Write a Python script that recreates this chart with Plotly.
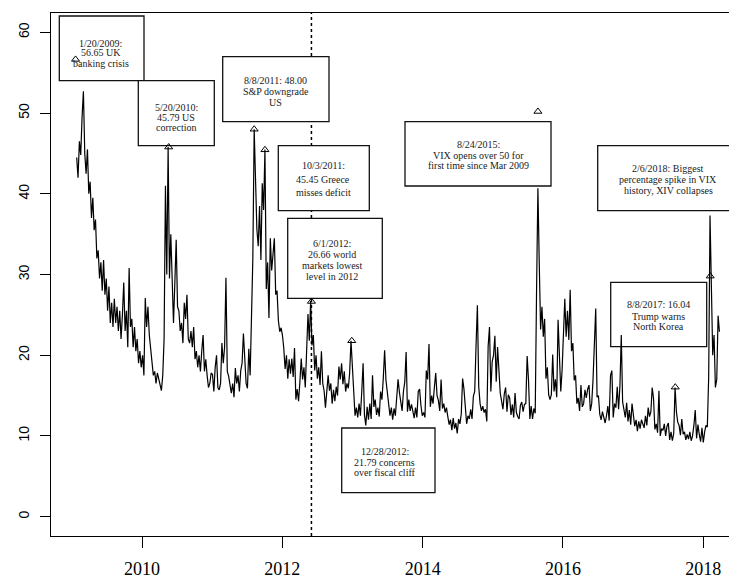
import pandas as pd
import plotly.graph_objects as go

# ---------------- data (weekly readings of the VIX close) ----------------
vix_2009 = [44.5, 42.0, 46.5, 44.8, 49.5, 52.7, 45.0, 42.5, 45.5, 40.0, 41.5, 37.0, 39.5, 35.5, 36.8,
            32.0, 33.0, 29.5, 31.5, 28.0, 31.8, 27.5, 29.5, 25.5, 28.5, 24.0, 26.5, 23.5, 27.0, 24.0,
            26.0, 23.0, 25.5, 22.0, 25.0, 29.0, 23.0, 25.5, 21.0, 30.8, 23.5, 24.5, 21.0, 23.5, 20.5,
            22.0, 19.0, 20.5, 18.5]
vix_2010 = [20.0, 17.5, 27.1, 23.5, 26.0, 22.5, 20.5, 19.5, 17.5, 18.0, 16.5, 17.8, 17.0, 16.2, 15.6,
            17.5, 22.0, 41.0, 30.0, 45.8, 29.5, 35.0, 28.5, 24.0, 29.0, 34.3, 26.0, 25.5, 23.0, 24.0,
            21.5, 26.5, 24.5, 27.5, 22.0, 21.5, 23.0, 21.0, 23.5, 19.5, 20.5, 18.5, 20.0, 18.0, 20.5,
            22.5, 18.0, 19.5, 17.5, 16.0, 16.5, 17.8]
vix_2011 = [17.6, 15.5, 18.5, 20.0, 16.0, 15.7, 16.5, 21.5, 19.0, 21.0, 29.6, 18.0, 17.4, 16.0, 15.3,
            16.5, 14.8, 18.4, 16.5, 17.5, 15.5, 18.1, 19.0, 22.7, 19.5, 16.5, 15.9, 20.8, 17.5, 25.3,
            32.0, 48.0, 43.0, 35.6, 33.5, 38.5, 31.8, 41.3, 38.0, 45.5, 28.2, 31.5, 24.6, 34.5, 30.5,
            32.5, 34.5, 27.5, 28.0, 24.3, 22.9, 23.4]
vix_2012 = [22.5, 20.9, 18.3, 20.0, 17.1, 19.5, 17.7, 19.6, 17.3, 20.9, 14.5, 15.8, 14.3, 16.7, 19.6,
            17.0, 18.5, 16.0, 20.0, 25.1, 21.8, 26.7, 21.2, 22.5, 18.1, 20.0, 17.1, 18.5, 16.3, 20.5,
            16.5, 15.6, 13.5, 15.2, 17.5, 15.6, 16.5, 14.0, 15.7, 14.3, 16.1, 15.0, 18.6, 17.0, 19.0,
            16.4, 18.0, 15.5, 16.5, 15.9, 17.8, 21.8]
vix_2013 = [14.7, 12.5, 13.5, 12.3, 14.0, 12.5, 15.5, 19.0, 12.6, 11.3, 13.6, 12.0, 14.0, 12.1, 17.5,
            13.6, 14.5, 12.6, 13.5, 12.4, 15.5, 14.5, 17.1, 20.6, 16.9, 15.5, 14.0, 12.5, 13.5, 12.0,
            13.4, 12.5, 14.8, 17.0, 15.4, 14.2, 13.1, 15.5, 16.7, 20.4, 13.0, 14.5, 13.1, 13.9, 12.9,
            12.2, 13.5, 12.3, 15.5, 15.8, 13.8, 12.5]
vix_2014 = [12.9, 12.3, 18.1, 17.0, 21.4, 13.6, 15.0, 14.0, 16.0, 17.8, 15.0, 14.4, 13.1, 17.0, 13.4,
            14.0, 12.9, 13.5, 12.4, 11.4, 12.0, 10.7, 12.2, 10.9, 11.6, 10.3, 12.1, 11.5, 12.7, 17.1,
            15.8, 13.2, 11.5, 12.5, 12.1, 13.3, 12.1, 14.9, 15.5, 21.2, 26.2, 16.1, 14.0, 13.1, 13.7,
            12.9, 13.3, 11.8, 21.1, 23.5, 15.5, 19.2]
vix_2015 = [20.0, 22.4, 16.7, 21.0, 17.3, 15.3, 14.3, 13.3, 15.2, 16.0, 13.0, 15.1, 14.7, 12.6, 13.9,
            12.3, 15.3, 12.9, 12.4, 12.1, 13.8, 14.2, 13.0, 13.9, 14.0, 19.9, 17.0, 12.1, 13.7, 12.1,
            13.4, 12.8, 28.0, 40.7, 31.4, 23.2, 26.0, 22.3, 24.5, 17.1, 18.5, 15.1, 14.5, 15.1, 20.1,
            15.5, 17.0, 14.8, 24.4, 20.7, 15.5, 18.2]
vix_2016 = [22.5, 27.0, 22.3, 25.5, 21.9, 28.1, 20.5, 21.5, 16.9, 17.5, 14.0, 14.7, 13.1, 16.3, 13.6,
            14.0, 15.7, 14.7, 15.8, 16.3, 13.1, 14.0, 17.0, 20.9, 25.8, 14.8, 15.0, 12.7, 12.0, 13.0,
            12.4, 11.6, 12.5, 13.7, 11.9, 17.5, 18.1, 12.3, 14.0, 13.5, 16.1, 13.3, 16.2, 22.5, 14.2,
            12.9, 12.3, 14.1, 11.8, 13.2, 11.4, 14.0]
vix_2017 = [12.5, 11.2, 12.0, 10.6, 11.8, 10.9, 12.0, 11.5, 11.0, 12.5, 11.3, 13.5, 12.4, 13.0, 16.0,
            14.6, 10.8, 11.5, 10.4, 15.6, 10.0, 10.9, 10.7, 11.5, 10.0, 11.2, 11.6, 9.5, 10.5, 9.4,
            10.3, 16.0, 13.0, 11.7, 11.3, 10.1, 12.1, 10.2, 10.5, 9.5, 10.2, 9.6, 10.5, 9.4, 10.0,
            11.3, 13.2, 9.7, 11.4, 10.2, 9.3, 11.0]
vix_2018 = [9.2, 10.5, 11.3, 11.1, 17.3, 37.3, 29.5, 20.0, 22.5, 16.0, 17.0, 24.9, 22.9]

year_series = [("2009-01-26", vix_2009), ("2010-01-04", vix_2010), ("2011-01-03", vix_2011),
               ("2012-01-02", vix_2012), ("2013-01-07", vix_2013), ("2014-01-06", vix_2014),
               ("2015-01-05", vix_2015), ("2016-01-04", vix_2016), ("2017-01-02", vix_2017),
               ("2018-01-01", vix_2018)]

event_dates = ["2009-01-20", "2010-05-20", "2011-08-08", "2011-10-03", "2012-06-01",
               "2012-12-28", "2015-08-24", "2017-08-08", "2018-02-06"]
event_values = [56.65, 45.79, 48.00, 45.45, 26.66, 21.79, 50.2, 16.04, 29.8]

marker_date = "2012-06-01"

tick_years = [2010, 2012, 2014, 2016, 2018]
y_ticks = [0, 10, 20, 30, 40, 50, 60]

box_texts = [
    ["1/20/2009:", "56.65 UK", "banking crisis"],
    ["5/20/2010:", "45.79 US", "correction"],
    ["8/8/2011: 48.00", "S&amp;P downgrade", "US"],
    ["10/3/2011:", "45.45 Greece", "misses deficit"],
    ["6/1/2012:", "26.66 world", "markets lowest", "level in 2012"],
    ["12/28/2012:", "21.79 concerns", "over fiscal cliff"],
    ["8/24/2015:", "VIX opens over 50 for", "first time since Mar 2009"],
    ["2/6/2018: Biggest", "percentage spike in VIX", "history, XIV collapses"],
    ["8/8/2017: 16.04", "Trump warns", "North Korea"],
]

# ---------------- layout geometry ----------------
# positions below are given in page pixels; the page body adds an 8 px offset
W, H = 737, 578
OFF = 8
L_PG, R_PG, T_PG, B_PG = 51, 745, 13, 536      # plot area on the page
Y_RANGE = [-2.4, 62.4]

# page x of two calendar anchors (for the date axis scale)
X_ANCHOR_PX = (142.0, 703.3)
X_ANCHOR_DT = (pd.Timestamp("2010-01-01"), pd.Timestamp("2018-01-01"))


def px_date(x):
    span = X_ANCHOR_DT[1] - X_ANCHOR_DT[0]
    return X_ANCHOR_DT[0] + (x - X_ANCHOR_PX[0]) / (X_ANCHOR_PX[1] - X_ANCHOR_PX[0]) * span


def py_val(y):
    return Y_RANGE[0] + (B_PG - y) / (B_PG - T_PG) * (Y_RANGE[1] - Y_RANGE[0])


def pxx(x):
    return (x - L_PG) / (R_PG - L_PG)


def pxy(y):
    return (B_PG - y) / (B_PG - T_PG)


X_RANGE = [str(px_date(L_PG)), str(px_date(R_PG))]

# box: (x0, x1, y0, y1, text centre x, [line y ...]) in page pixels
box_geom = [
    (59.3, 144.0, 16.0, 80.7, 100.5, [43.0, 53.0, 63.0]),
    (138.3, 214.3, 80.7, 145.7, 176.0, [107.3, 117.0, 127.3]),
    (222.7, 329.0, 56.7, 121.7, 275.5, [80.3, 91.7, 102.7]),
    (278.3, 369.3, 145.7, 210.7, 323.0, [166.0, 179.3, 192.3]),
    (287.7, 382.3, 218.3, 298.3, 331.5, [243.3, 254.3, 265.7, 276.7]),
    (341.7, 435.0, 428.0, 492.7, 384.5, [451.7, 462.3, 472.7]),
    (405.0, 551.0, 121.7, 186.0, 478.0, [144.0, 155.5, 165.7]),
    (597.7, 735.0, 145.7, 210.7, 668.0, [168.3, 179.8, 190.7]),
    (610.7, 706.7, 282.3, 346.7, 658.5, [305.0, 316.0, 326.7]),
]

dates = []
values = []
for start, vals in year_series:
    dates += list(pd.date_range(start, periods=len(vals), freq="7D"))
    values += vals

fig = go.Figure()
fig.add_trace(go.Scatter(x=dates, y=values, mode="lines",
                         line=dict(color="#000000", width=1.2), hoverinfo="skip",
                         showlegend=False))
fig.add_trace(go.Scatter(x=event_dates, y=event_values, mode="markers",
                         marker=dict(symbol="triangle-up-open", size=7,
                                     color="#000000", line=dict(width=1, color="#000000")),
                         showlegend=False))

shapes = [dict(type="line", xref="x", yref="y", x0=marker_date, x1=marker_date,
               y0=Y_RANGE[0], y1=Y_RANGE[1], layer="below",
               line=dict(color="#000000", width=1.5, dash="dot"))]
annotations = []
for (x0, x1, y0, y1, cx, lys), lines in zip(box_geom, box_texts):
    shapes.append(dict(type="rect", xref="x", yref="y",
                       x0=str(px_date(x0)), x1=str(px_date(x1)),
                       y0=py_val(y1), y1=py_val(y0),
                       layer="below", fillcolor="white",
                       line=dict(color="#111111", width=1.3)))
    for ly, txt in zip(lys, lines):
        annotations.append(dict(xref="paper", yref="paper", x=pxx(cx), y=pxy(ly),
                                text=txt, showarrow=False, xanchor="center", yanchor="middle",
                                font=dict(family="Liberation Serif", size=10, color="#1a1a1a")))

fig.update_layout(
    width=W, height=H,
    margin=dict(l=L_PG - OFF, r=W - (R_PG - OFF), t=T_PG - OFF, b=H - (B_PG - OFF), pad=0),
    paper_bgcolor="white", plot_bgcolor="white",
    shapes=shapes, annotations=annotations,
    showlegend=False,
)
fig.update_xaxes(type="date", range=X_RANGE,
                 tickmode="array",
                 tickvals=[f"{y}-01-01" for y in tick_years],
                 ticktext=[str(y) for y in tick_years],
                 ticks="outside", ticklen=11, tickwidth=1, tickcolor="#000000",
                 showline=True, mirror=True, linecolor="#000000", linewidth=1.2,
                 showgrid=False, zeroline=False,
                 tickfont=dict(family="Liberation Serif", size=18, color="#000000"),
                 ticklabelstandoff=5)
fig.update_yaxes(range=Y_RANGE, tickmode="array", tickvals=y_ticks,
                 ticktext=[str(v) for v in y_ticks],
                 ticks="outside", ticklen=10, tickwidth=1, tickcolor="#000000",
                 showline=True, mirror=False, linecolor="#000000", linewidth=1.2,
                 showgrid=False, zeroline=False, tickangle=-90,
                 tickfont=dict(family="Liberation Sans", size=14, color="#000000"),
                 ticklabelstandoff=5)

fig.write_html("out.html")
